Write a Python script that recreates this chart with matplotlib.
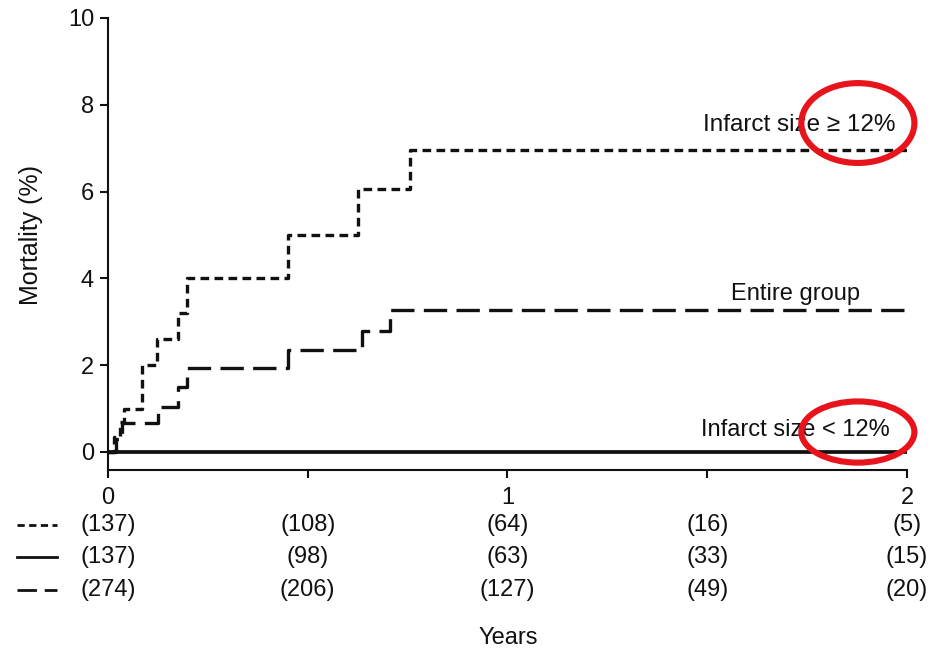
import matplotlib
matplotlib.use("Agg")
import matplotlib.pyplot as plt
from matplotlib.lines import Line2D
from matplotlib.patches import Ellipse

plt.rcParams['font.family'] = ['Liberation Sans', 'DejaVu Sans']

# Kaplan-Meier style step data (years, mortality %)
high_years = [0, 0.015, 0.03, 0.04, 0.085, 0.123, 0.175, 0.198, 0.45, 0.626, 0.756, 2.0]
high_mort = [0, 0.35, 0.7, 1.0, 2.0, 2.6, 3.2, 4.0, 5.0, 6.05, 6.95, 6.95]

all_years = [0, 0.02, 0.035, 0.125, 0.175, 0.198, 0.45, 0.636, 0.706, 2.0]
all_mort = [0, 0.3, 0.67, 1.03, 1.5, 1.93, 2.35, 2.79, 3.27, 3.27]

low_years = [0, 2.0]
low_mort = [0, 0]

# numbers at risk
risk_years = [0, 0.5, 1, 1.5, 2]
risk_high = [137, 108, 64, 16, 5]
risk_low = [137, 98, 63, 33, 15]
risk_all = [274, 206, 127, 49, 20]

ink = '#111111'
dot_style = (0, (2.6, 1.6))
dash_style = (0, (7.0, 2.8))
fs = 17

fig = plt.figure(figsize=(9.37, 6.53), dpi=100)
ax = fig.add_axes([108/937, 1-470/653, 799/937, 452/653])

ax.step(high_years, high_mort, where='post', color=ink, lw=2.4, linestyle=dot_style)
ax.step(all_years, all_mort, where='post', color=ink, lw=2.4, linestyle=dash_style)
ax.step(low_years, low_mort, where='post', color=ink, lw=2.7, solid_capstyle='butt')

ax.set_xlim(0, 2)
ax.set_ylim(-0.415, 10)
ax.set_yticks([0, 2, 4, 6, 8, 10])
ax.set_xticks(risk_years)
ax.set_xticklabels(['0', '', '1', '', '2'])
for s in ['top', 'right']:
    ax.spines[s].set_visible(False)
for s in ['left', 'bottom']:
    ax.spines[s].set_linewidth(1.5)
    ax.spines[s].set_color(ink)
ax.tick_params(length=6, width=1.5, color=ink, labelsize=fs, labelcolor=ink, pad=4)
ax.tick_params(axis='x', pad=6)

ax.set_ylabel('Mortality (%)', fontsize=18, color=ink)
ax.yaxis.set_label_coords(-0.081, 0.52)

ax.text(1.97, 7.53, 'Infarct size \u2265 12%', ha='right', va='center', fontsize=17.5, color=ink)
ax.text(1.72, 3.65, 'Entire group', ha='center', va='center', fontsize=fs, color=ink)
ax.text(1.957, 0.5, 'Infarct size < 12%', ha='right', va='center', fontsize=fs, color=ink)

# red highlight ellipses
for cy, h in [(7.58, 1.84), (0.46, 1.41)]:
    ax.add_patch(Ellipse((1.877, cy), 0.283, h, fill=False, edgecolor='#e8141c',
                         lw=4.4, clip_on=False, zorder=5))

# numbers-at-risk table
trans = ax.get_xaxis_transform()
rows = [(risk_high, dot_style, 525), (risk_low, '-', 557), (risk_all, dash_style, 590)]
for counts, style, ypix in rows:
    ya = (470 - ypix) / 452
    for x, n in zip(risk_years, counts):
        ax.text(x, ya, '(%d)' % n, transform=trans, ha='center', va='center',
                fontsize=fs, color=ink, clip_on=False)
    fig.add_artist(Line2D([17/937, 57/937], [1-ypix/653]*2, transform=fig.transFigure,
                          color=ink, lw=2.0, linestyle=style))

fig.text(508/937, 1-638/653, 'Years', ha='center', va='center', fontsize=fs, color=ink)

fig.savefig('out.png', dpi=100)
